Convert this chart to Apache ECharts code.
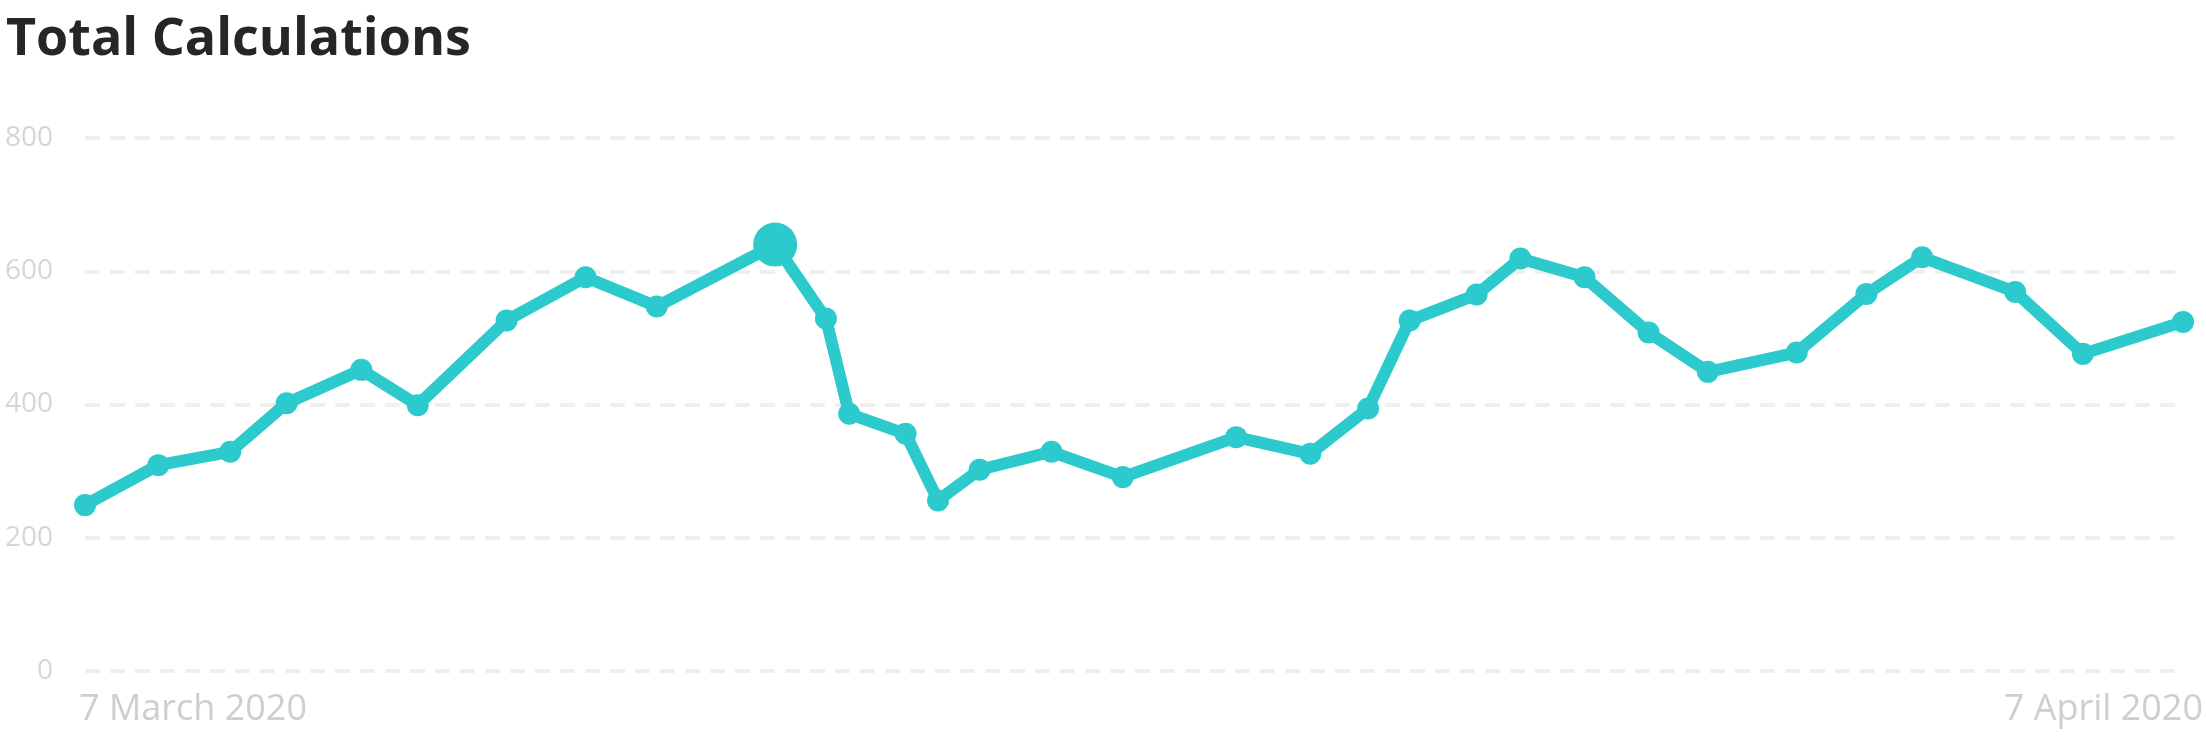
<!DOCTYPE html>
<html>
<head>
<meta charset="utf-8">
<script src="https://cdn.jsdelivr.net/npm/echarts@6/dist/echarts.min.js"></script>
<style>
  html, body { margin: 0; padding: 0; background: #ffffff; }
  #chart { width: 2206px; height: 742px; }
</style>
</head>
<body>
<div id="chart"></div>
<script>
// ---- data ----
const titleText = 'Total Calculations';
const times = [
  '2020-03-07T00:00Z', '2020-03-08T02:00Z', '2020-03-09T03:30Z', '2020-03-09T23:30Z',
  '2020-03-11T02:00Z', '2020-03-11T22:00Z', '2020-03-13T05:30Z', '2020-03-14T09:30Z',
  '2020-03-15T10:45Z', '2020-03-17T04:45Z', '2020-03-17T22:45Z', '2020-03-18T07:00Z',
  '2020-03-19T03:00Z', '2020-03-19T14:30Z', '2020-03-20T05:15Z', '2020-03-21T06:45Z',
  '2020-03-22T08:00Z', '2020-03-24T00:15Z', '2020-03-25T02:30Z', '2020-03-25T23:00Z',
  '2020-03-26T13:45Z', '2020-03-27T13:30Z', '2020-03-28T05:00Z', '2020-03-29T03:45Z',
  '2020-03-30T02:30Z', '2020-03-30T23:30Z', '2020-04-01T07:00Z', '2020-04-02T07:45Z',
  '2020-04-03T03:30Z', '2020-04-04T12:30Z', '2020-04-05T12:30Z', '2020-04-07T00:00Z'
];
const values = [
  249, 309, 329, 402, 452, 399, 526, 591,
  547, 640, 529, 386, 356, 256, 302, 329,
  291, 351, 326, 394, 526, 565, 619, 591,
  508, 449, 478, 566, 621, 569, 476, 524
];
const xTickDates = ['2020-03-07T00:00Z', '2020-04-07T00:00Z'];
const xTickLabels = ['7 March 2020', '7 April 2020'];
const yTicks = [0, 200, 400, 600, 800];
const highlightIndex = 9;

// ---- build ----
const t0 = Date.parse(xTickDates[0]);
const toHours = s => (Date.parse(s) - t0) / 3600000;
const xMax = toHours(xTickDates[1]);
const seriesData = times.map((t, i) => [toHours(t), values[i]]);

const chart = echarts.init(document.getElementById('chart'), null, { renderer: 'canvas' });
chart.setOption({
  animation: false,
  backgroundColor: '#ffffff',
  title: {
    text: titleText,
    left: 1,
    top: 9,
    textStyle: {
      fontFamily: 'Open Sans',
      fontWeight: 'bold',
      fontSize: 52,
      color: '#262626'
    }
  },
  grid: { left: 85, right: 23, top: 138, bottom: 71, containLabel: false },
  xAxis: {
    type: 'value',
    min: 0,
    max: xMax,
    interval: xMax,
    axisLine: { show: false },
    axisTick: { show: false },
    splitLine: { show: false },
    axisLabel: {
      show: true,
      showMinLabel: true,
      showMaxLabel: true,
      margin: 21,
      fontFamily: 'Open Sans',
      fontSize: 36,
      color: '#cdced2',
      formatter: v => (v === 0 ? '{l|' + xTickLabels[0] + '}' : '{r|' + xTickLabels[1] + '}'),
      rich: {
        l: { fontFamily: 'Open Sans', fontSize: 36, color: '#cdced2', align: 'left', padding: [0, 0, 0, -6] },
        r: { fontFamily: 'Open Sans', fontSize: 36, color: '#cdced2', align: 'right', padding: [0, -20, 0, 0] }
      },
      alignMinLabel: 'left',
      alignMaxLabel: 'right'
    }
  },
  yAxis: {
    type: 'value',
    min: yTicks[0],
    max: yTicks[yTicks.length - 1],
    interval: yTicks[1] - yTicks[0],
    axisLine: { show: false },
    axisTick: { show: false },
    axisLabel: {
      margin: 32,
      fontFamily: 'Open Sans',
      fontSize: 28,
      color: '#d5d6da'
    },
    splitLine: {
      show: true,
      lineStyle: { color: '#efefef', width: 4, type: [15, 10] }
    }
  },
  series: [{
    type: 'line',
    data: seriesData,
    showSymbol: true,
    symbol: 'circle',
    symbolSize: (val, params) => (params.dataIndex === highlightIndex ? 44 : 22),
    lineStyle: { color: '#2ccacd', width: 12, join: 'round' },
    itemStyle: { color: '#2ccacd', borderWidth: 0 },
    z: 3
  }]
});
</script>
</body>
</html>
